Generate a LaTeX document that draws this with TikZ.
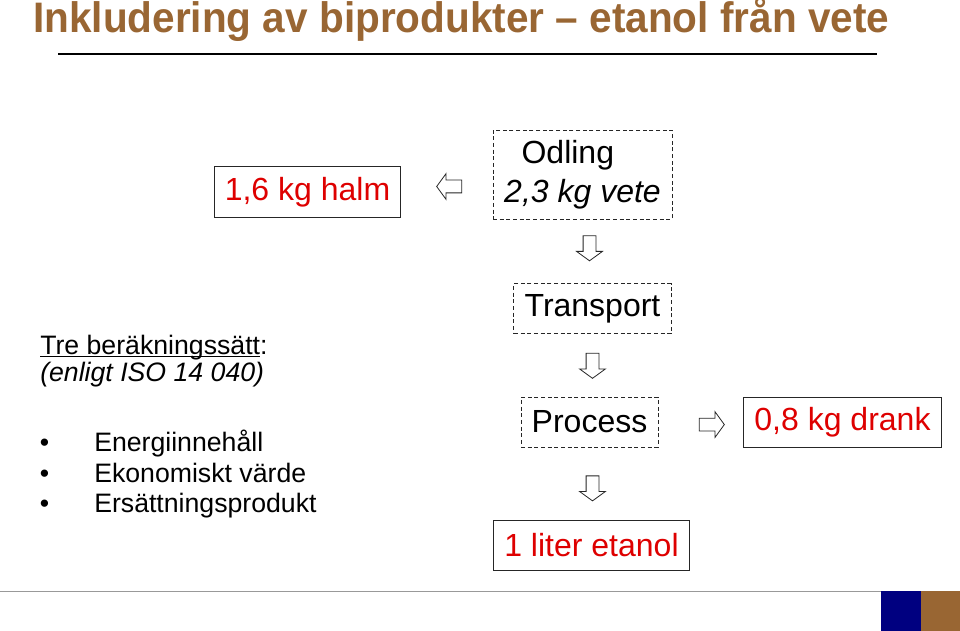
\documentclass[tikz,border=0pt]{standalone}
\usepackage{fontspec}
\setmainfont{Liberation Sans}
\newfontfamily\titlefont[FakeStretch=0.95]{Liberation Sans}
\usetikzlibrary{shapes.arrows, positioning}
\definecolor{titlebrown}{RGB}{153,102,51}
\definecolor{navyblock}{RGB}{0,0,128}
\definecolor{labelred}{RGB}{222,0,0}
\newcommand{\ulinetext}[1]{\setbox0\hbox{#1}\rlap{\rule[-2.3pt]{\wd0}{1pt}}\box0}
\tikzstyle{stage} = [rectangle, draw=black!85, dash pattern=on 3pt off 2pt, line width=0.7pt, inner xsep=8pt, minimum height=37.5pt, text centered, font=\fontsize{24pt}{29.25pt}\selectfont]
\tikzstyle{product} = [rectangle, draw=black!85, line width=0.7pt, inner xsep=8pt, minimum height=37.5pt, text centered, text=labelred, font=\fontsize{24pt}{29.25pt}\selectfont]
\tikzstyle{flowarrow} = [single arrow, draw=black!85, line width=0.6pt, fill=white, inner sep=4.5pt, minimum height=18.75pt, single arrow head extend=4.9pt, single arrow tip angle=108]
\tikzstyle{textline} = [anchor=base west, inner sep=0pt, font=\fontsize{20pt}{23pt}\selectfont]
\begin{document}
\begin{tikzpicture}[x=0.75pt, y=-0.75pt, node distance=45pt]
    \useasboundingbox (0,0) rectangle (960,631);

    % Rubrik
    \node (title) [anchor=base west, inner sep=0pt, text=titlebrown, font=\titlefont\bfseries\fontsize{32pt}{38pt}\selectfont] at (33,33) {Inkludering av biprodukter – etanol från vete};
    \draw [line width=1.5pt] (58,54) -- (877,54);

    % Kedjan
    \node (odling) [stage, minimum width=134.25pt, minimum height=66.75pt, align=center] at (582.5,174.5) {Odling\hspace*{22pt}\\\textit{2,3 kg vete}};
    \node (pil1) [flowarrow, shape border rotate=270, below of=odling, xshift=5.25pt, yshift=-8.6pt] {};
    \node (transport) [stage, below of=pil1, xshift=2.25pt, yshift=-1.9pt] {Transport};
    \node (pil2) [flowarrow, shape border rotate=270, below of=transport, yshift=3.75pt] {};
    \node (process) [stage, below of=pil2, xshift=-2.25pt, yshift=1.1pt] {Process};
    \node (pil3) [flowarrow, shape border rotate=270, below of=process, xshift=2.25pt, yshift=-3pt] {};
    \node (etanol) [product, below of=pil3, xshift=-0.75pt, yshift=0.75pt] {1 liter etanol};
    \node (pil4) [flowarrow, node distance=90pt, right of=process, yshift=-1.9pt] {};
    \node (drank) [product, node distance=99.75pt, right of=pil4, yshift=1.9pt] {0,8 kg drank};
    \node (pil5) [flowarrow, shape border rotate=180, node distance=98.25pt, left of=odling, yshift=-9pt] {};
    \node (halm) [product, node distance=108pt, left of=pil5, yshift=-4.1pt] {1,6 kg halm};

    % Beräkningssätt
    \node (metod) [textline] at (40,354) {\ulinetext{Tre beräkningssätt}:};
    \node (iso) [textline] at (40,381) {\textit{(enligt ISO 14 040)}};
    \foreach \txt [count=\i] in {Energiinnehåll, Ekonomiskt värde, Ersättningsprodukt}
        \node (satt\i) [textline] at (94,{421+30.5*\i}) {\llap{•\hspace{33.75pt}}\txt};

    % Sidfot
    \draw [black!40, line width=0.75pt] (0,591) -- (881,591);
    \fill [navyblock] (881,591) rectangle (921,631);
    \fill [titlebrown] (921,591) rectangle (960,631);

\end{tikzpicture}
\end{document}
